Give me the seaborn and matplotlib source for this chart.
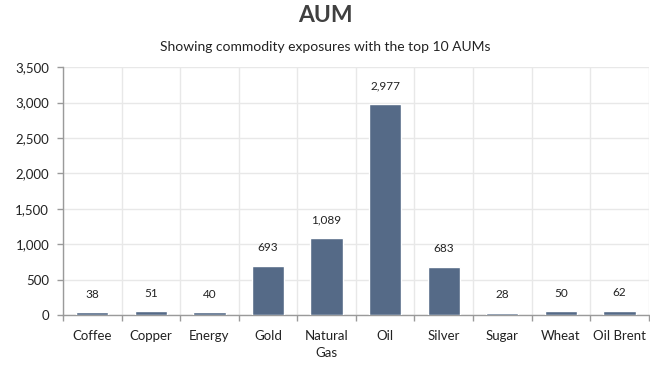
import matplotlib
matplotlib.use("Agg")
import matplotlib.pyplot as plt
from matplotlib.ticker import FuncFormatter, FixedLocator
import seaborn as sns
import pandas as pd

categories = ["Coffee", "Copper", "Energy", "Gold", "Natural\nGas", "Oil",
              "Silver", "Sugar", "Wheat", "Oil Brent"]
aum = [38, 51, 40, 693, 1089, 2977, 683, 28, 50, 62]
yticks = [0, 500, 1000, 1500, 2000, 2500, 3000, 3500]

sns.set_theme(style="white")
plt.rcParams["font.family"] = ["Lato", "DejaVu Sans"]

df = pd.DataFrame({"Commodity": categories, "AUM": aum})

fig = plt.figure(figsize=(6.5, 3.65), dpi=100)
ax = fig.add_axes([0.097, 0.137, 0.901, 0.679])

sns.barplot(data=df, x="Commodity", y="AUM", color="#556A87", saturation=1,
            width=0.55, ax=ax, zorder=3)

ax.set_xlim(-0.5, len(categories) - 0.5)
ax.set_ylim(0, 3500)
ax.set_yticks(yticks)
ax.yaxis.set_major_formatter(FuncFormatter(lambda v, p: f"{int(v):,}"))

# category boundaries: vertical gridlines and outward tick marks
bounds = [i - 0.5 for i in range(len(categories) + 1)]
ax.xaxis.set_minor_locator(FixedLocator(bounds))
ax.tick_params(axis="x", which="major", length=0, pad=11, labelsize=9.5,
               labelcolor="#222222")
ax.tick_params(axis="x", which="minor", length=4, color="#9a9a9a", width=1,
               direction="out", bottom=True)
ax.tick_params(axis="y", which="major", length=4, color="#9a9a9a", width=1,
               direction="out", left=True, labelsize=9.5, labelcolor="#222222",
               pad=6)
for lbl in ax.get_xticklabels():
    lbl.set_linespacing(1.45)
ax.grid(True, axis="y", which="major", color="#e8e8e8", lw=1, zorder=0)
ax.grid(True, axis="x", which="minor", color="#e8e8e8", lw=1, zorder=0)
ax.set_axisbelow(True)

for side in ["top", "right"]:
    ax.spines[side].set_visible(False)
for side in ["left", "bottom"]:
    ax.spines[side].set_color("#9a9a9a")
    ax.spines[side].set_linewidth(1)

ax.set_xlabel("")
ax.set_ylabel("")

for i, v in enumerate(aum):
    ax.annotate(f"{v:,}", (i, v), xytext=(0, 13), textcoords="offset points",
                ha="center", va="center", fontsize=8.5, color="#222222")

fig.text(0.5, 0.958, "AUM", ha="center", va="center", fontsize=16.5,
         fontweight="bold", color="#404040")
fig.text(0.5, 0.871, "Showing commodity exposures with the top 10 AUMs",
         ha="center", va="center", fontsize=10, color="#222222")

fig.savefig("out.png", dpi=100, facecolor="white")
